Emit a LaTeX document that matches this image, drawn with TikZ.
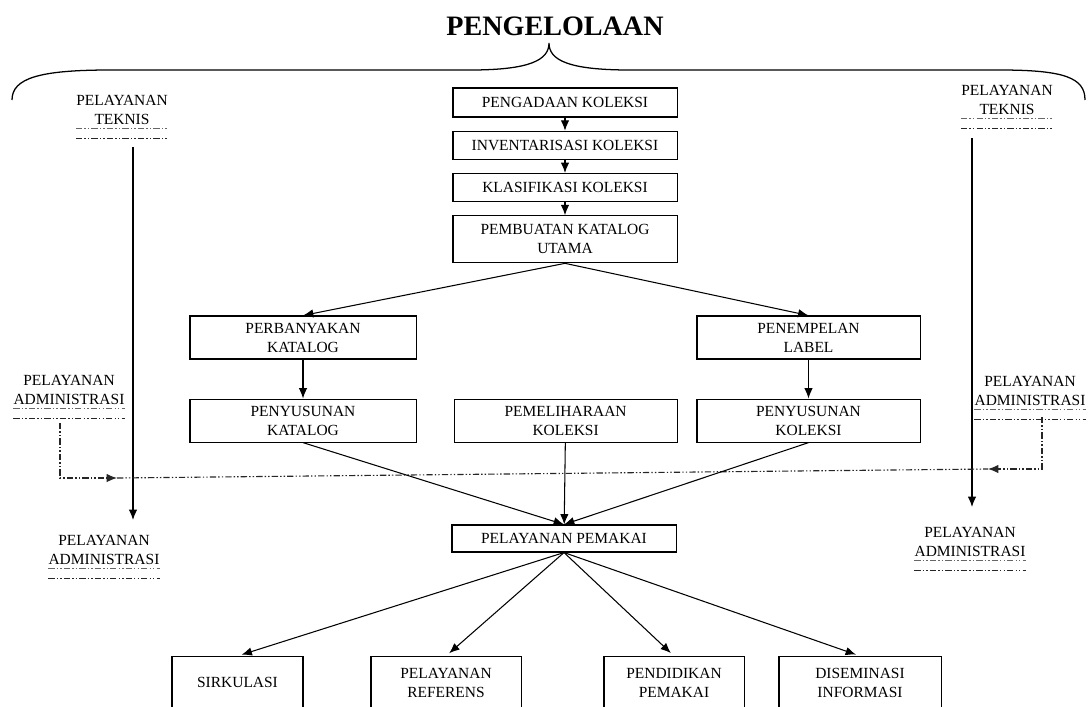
\documentclass[tikz,border=0pt]{standalone}
\usepackage{fontspec}
\setmainfont{Liberation Serif}
\usetikzlibrary{positioning,arrows.meta}

\begin{document}
\begin{tikzpicture}[x=0.025cm, y=-0.025cm, node distance={0.33cm},
  kotak/.style = {draw, line width=0.75pt, minimum width=5.6cm, minimum height=0.7cm, align=center, inner sep=1pt, font=\fontsize{11}{13.5}\selectfont},
  ket/.style = {align=center, inner sep=0pt, font=\fontsize{11}{13}\selectfont},
  panah/.style = {-{Latex[length=2.6mm,width=2.1mm]}, line width=0.75pt},
  garis/.style = {dash pattern=on 4.5pt off 1.5pt on 1pt off 1.5pt on 1pt off 1.5pt, line width=0.8pt, black!85}]
\clip (0,0) rectangle (1090,706);

\node[font=\fontsize{20}{24}\selectfont\bfseries] (judul) at (555,26) {PENGELOLAAN};
\draw[line width=0.9pt] (12,100) .. controls (12,78) and (40,70) .. (110,70) -- (470,70)
  .. controls (530,70) and (549,60) .. (549,43) .. controls (549,60) and (568,70) .. (630,70)
  -- (1000,70) .. controls (1065,70) and (1085,78) .. (1085,100);

\node[kotak, minimum height=0.725cm] (b1) at (565,102.5) {PENGADAAN KOLEKSI};
\node[kotak] (b2) [below=of b1] {INVENTARISASI KOLEKSI};
\node[kotak] (b3) [below=of b2] {KLASIFIKASI KOLEKSI};
\node[kotak, minimum height=1.175cm] (b4) [below=of b3] {PEMBUATAN KATALOG\\UTAMA};

\node[kotak, minimum width=5.65cm, minimum height=1.075cm] (katalog1) at (303,337.5) {PERBANYAKAN\\KATALOG};
\node[kotak, minimum width=5.575cm, minimum height=1.075cm] (label1) at (808.5,337.5) {PENEMPELAN\\LABEL};
\node[kotak, minimum width=5.65cm, minimum height=1.075cm] (katalog2) [below=0.975cm of katalog1] {PENYUSUNAN\\KATALOG};
\node[kotak, minimum width=5.575cm, minimum height=1.075cm] (pelihara) [right=0.925cm of katalog2] {PEMELIHARAAN\\KOLEKSI};
\node[kotak, minimum width=5.575cm, minimum height=1.075cm] (koleksi2) [below=0.975cm of label1] {PENYUSUNAN\\KOLEKSI};

\node[kotak, minimum height=0.675cm] (pemakai) at (564,538.5) {PELAYANAN PEMAKAI};

\node[kotak, minimum width=3.275cm, minimum height=1.3cm, anchor=north] (sirkulasi) at (237.5,656) {SIRKULASI};
\node[kotak, minimum width=3.75cm, minimum height=1.3cm, anchor=north] (referens) at (446,656) {PELAYANAN\\REFERENS};
\node[kotak, minimum width=3.5cm, minimum height=1.3cm, anchor=north] (pendidikan) at (674,656) {PENDIDIKAN\\PEMAKAI};
\node[kotak, minimum width=4.05cm, minimum height=1.3cm, anchor=north] (diseminasi) at (860,656) {DISEMINASI\\INFORMASI};

% keterangan kiri dan kanan
\node[ket] (teknis1) at (122,110) {PELAYANAN\\TEKNIS};
\node[ket] (adm1) at (69,390) {PELAYANAN\\ADMINISTRASI};
\node[ket] (adm2) at (104,550) {PELAYANAN\\ADMINISTRASI};
\node[ket] (teknis2) at (1007,100) {PELAYANAN\\TEKNIS};
\node[ket] (adm3) at (1030,391) {PELAYANAN\\ADMINISTRASI};
\node[ket] (adm4) at (970,542) {PELAYANAN\\ADMINISTRASI};
\foreach \n in {teknis1,teknis2,adm1,adm2,adm3,adm4} {
  \draw[garis, black!60] ([yshift=-3pt]\n.south west) -- ([yshift=-3pt]\n.south east);
  \draw[garis] ([yshift=-10pt]\n.south west) -- ([yshift=-10pt]\n.south east);
}

\coordinate (t1) at (133,147);
\coordinate (t1b) at (133,520);
\coordinate (t2) at (972,138);
\coordinate (t2b) at (972,507);
\draw[panah] (t1) -- (t1b);
\draw[panah] (t2) -- (t2b);

\coordinate (a1) at (60,423);
\coordinate (a1k) at (117,478);
\coordinate (a3) at (1042,417);
\coordinate (a3k) at (988,469);
\draw[garis, panah] (a1) |- (a1k);
\draw[garis] (a1k) -- (a3k);
\draw[garis, panah] (a3) |- (a3k);

\draw[panah] (b1) -- (b2);
\draw[panah] (b2) -- (b3);
\draw[panah] (b3) -- (b4);
\draw[panah] (b4.south) -- (katalog1.north);
\draw[panah] (b4.south) -- (label1.north);
\draw[panah] (katalog1) -- (katalog2);
\draw[panah] (label1) -- (koleksi2);
\draw[panah] (katalog2.south) -- (pemakai.north);
\draw[panah] (pelihara) -- (pemakai);
\draw[panah] (koleksi2.south) -- (pemakai.north);
\foreach \n in {sirkulasi,referens,pendidikan,diseminasi}
  \draw[panah, shorten >=3pt] (pemakai.south) -- (\n.north);
\end{tikzpicture}
\end{document}
